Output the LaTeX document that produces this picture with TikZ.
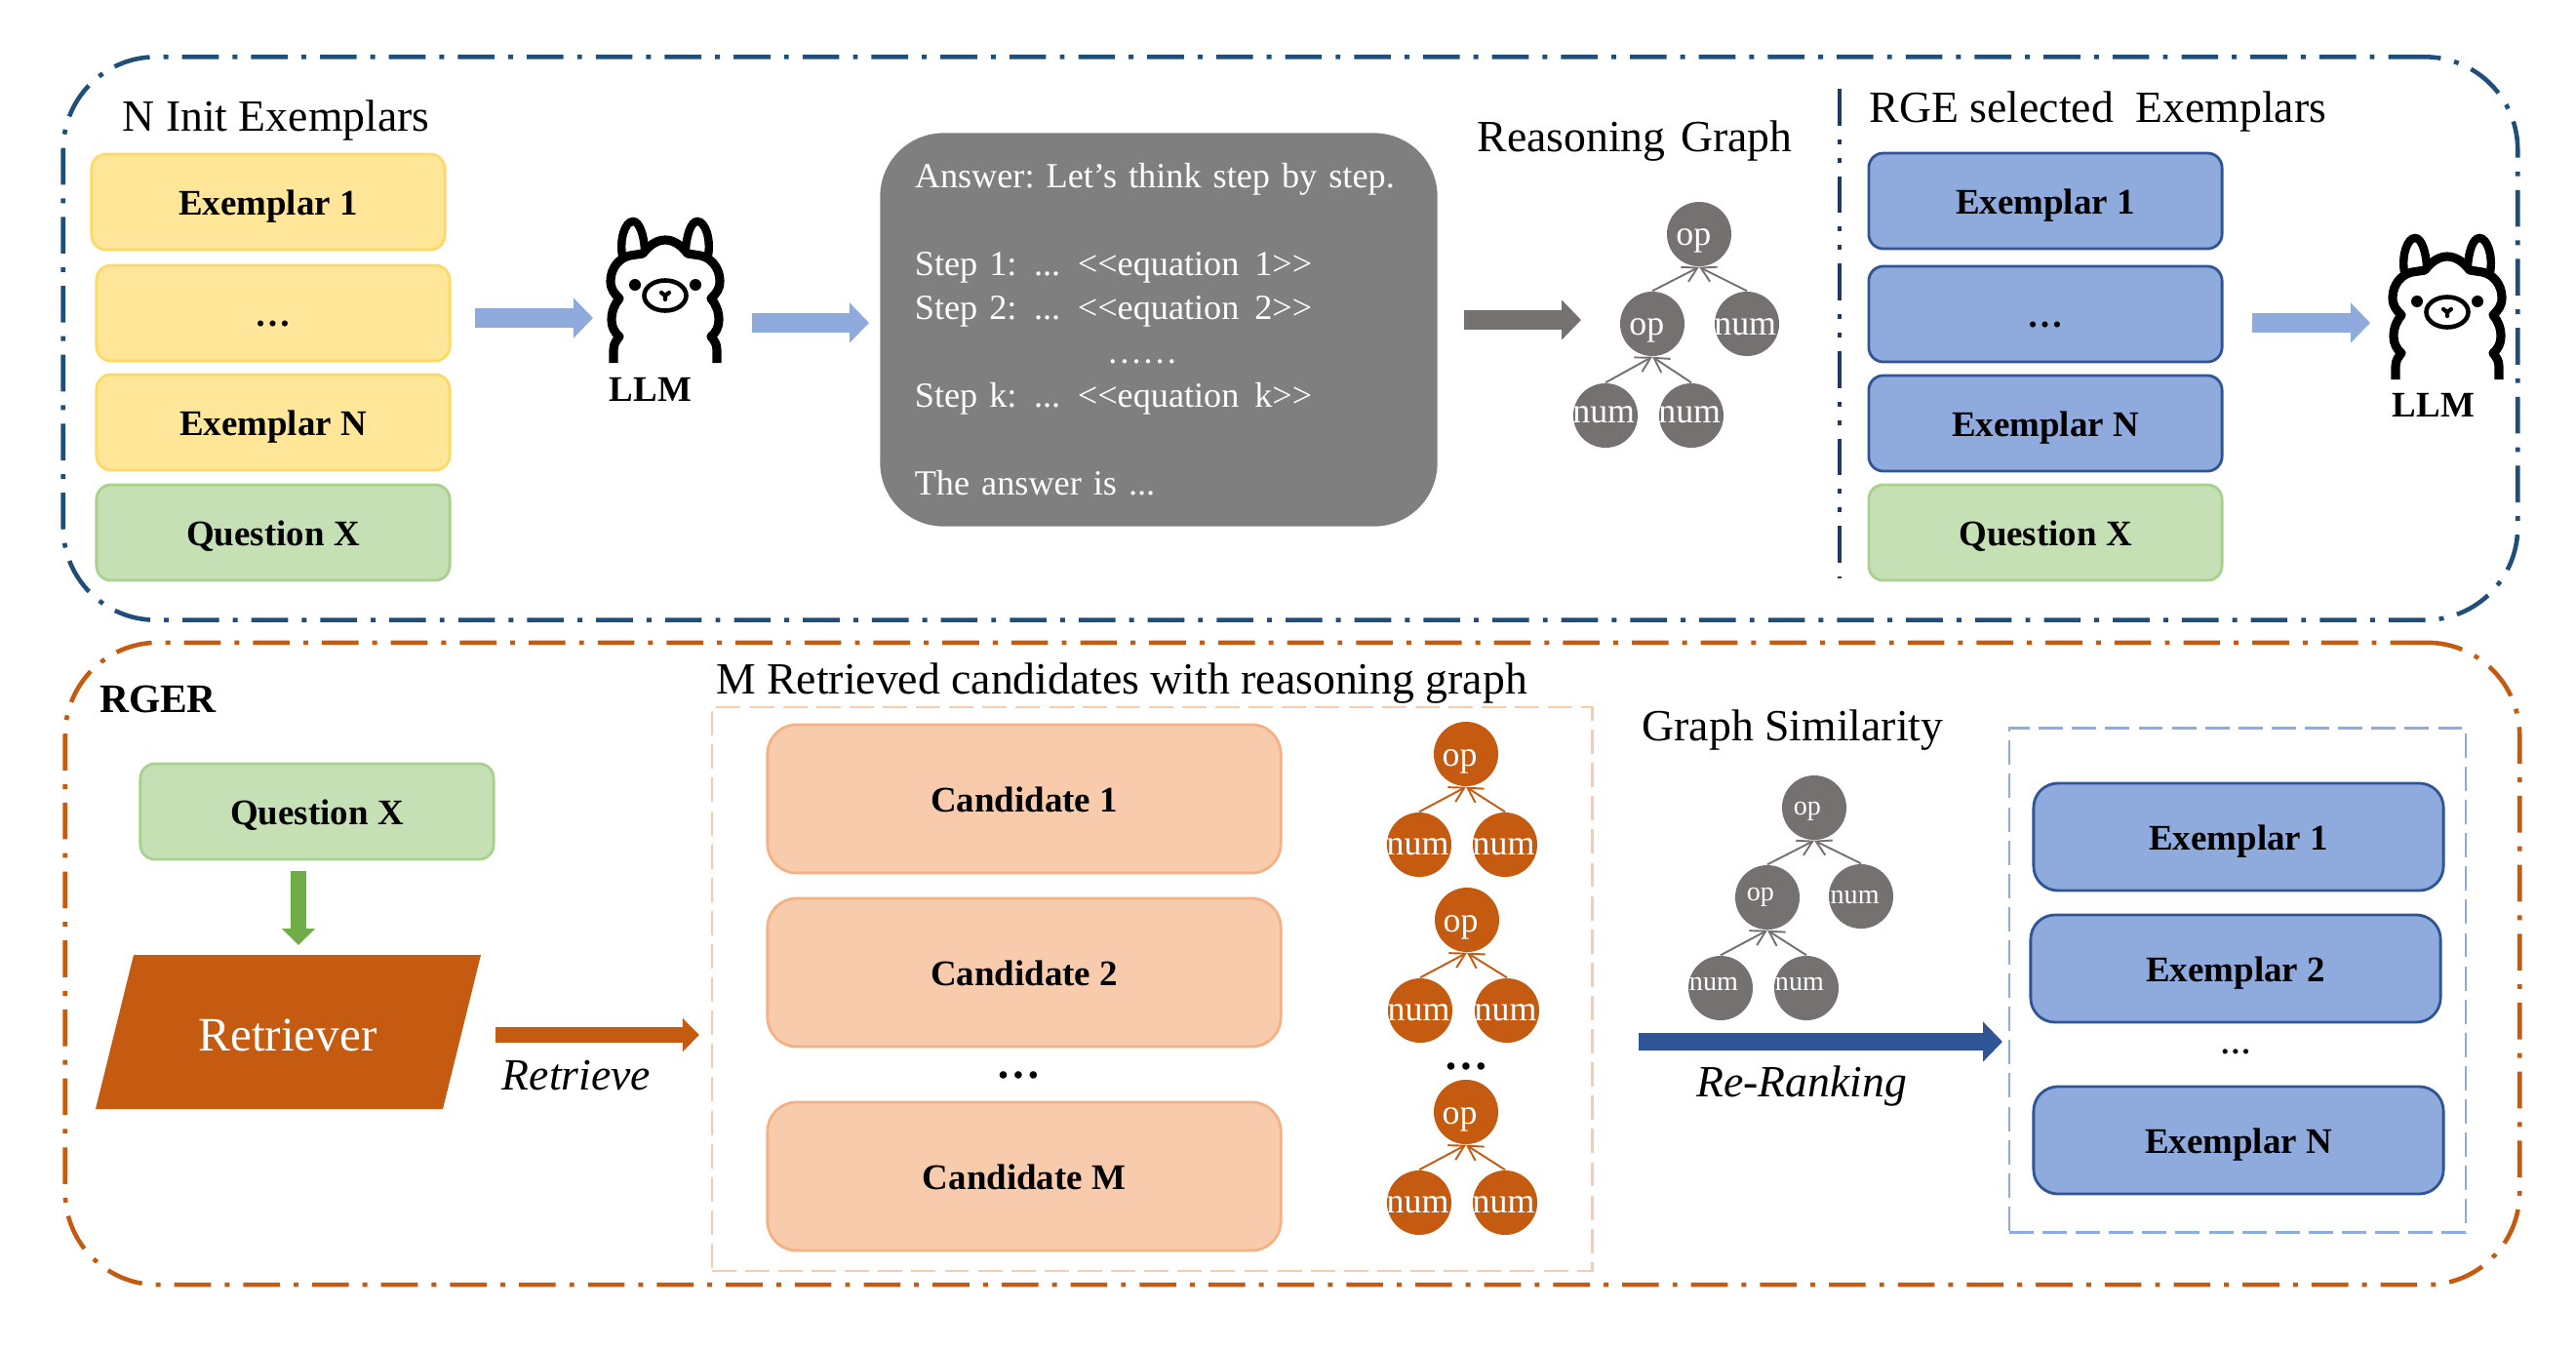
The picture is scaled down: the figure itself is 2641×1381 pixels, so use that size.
\documentclass[tikz,border=0pt]{standalone}
\usepackage{fontspec}
\setmainfont{Liberation Serif}
\usetikzlibrary{arrows.meta}

\definecolor{framenavy}{HTML}{1F4E79}
\definecolor{framerust}{HTML}{C55A11}
\definecolor{ruleblue}{HTML}{1F3864}
\definecolor{sandfill}{HTML}{FFE699}
\definecolor{sandline}{HTML}{FFD966}
\definecolor{leaffill}{HTML}{C5E0B4}
\definecolor{leafline}{HTML}{A9D18E}
\definecolor{skyfill}{HTML}{8FAADC}
\definecolor{skyline}{HTML}{2F5597}
\definecolor{peachfill}{HTML}{F8CBAD}
\definecolor{peachline}{HTML}{F4B183}
\definecolor{slate}{HTML}{767171}
\definecolor{answergray}{HTML}{7F7F7F}
\definecolor{grass}{HTML}{70AD47}

\newcommand{\nodetext}[3]{\makebox[0pt]{\hspace*{#1}\smash{\raisebox{#2}{#3}}}}

\begin{document}
\begin{tikzpicture}[
  x=0.01cm, y=-0.01cm,
  every node/.style={inner sep=1pt},
  frame/.style={draw, rounded corners=0.95cm, line width=1.3pt, minimum width=25.15cm,
    dash pattern=on 10.7pt off 4pt on 1.4pt off 4pt},
  headline/.style={font=\fontsize{13}{16}\selectfont},
  card/.style={draw, rounded corners=0.15cm, line width=0.8pt, minimum width=3.62cm, minimum height=0.98cm,
    text height=7.5pt, text depth=0pt, font=\fontsize{10.5}{12}\selectfont\bfseries},
  exinit/.style={card, fill=sandfill, draw=sandline},
  question/.style={card, fill=leaffill, draw=leafline},
  exsel/.style={card, fill=skyfill, draw=skyline},
  exrank/.style={exsel, rounded corners=0.25cm, minimum width=4.2cm, minimum height=1.1cm},
  candidate/.style={card, fill=peachfill, draw=peachline, rounded corners=0.3cm,
    minimum width=5.26cm, minimum height=1.52cm},
  dashbox/.style={draw, line width=0.7pt, dash pattern=on 7.1pt off 2.6pt},
  graynode/.style={circle, fill=slate, minimum size=0.66cm, inner sep=0pt, text=white,
    font=\fontsize{10.2}{12}\selectfont},
  graysmall/.style={graynode, font=\fontsize{8}{10}\selectfont},
  rustnode/.style={graynode, fill=framerust},
  link/.style={draw, line width=0.55pt, -{Straight Barb[length=4.2pt, width=4.8pt]}},
  graylink/.style={link, slate},
  rustlink/.style={link, framerust},
  block/.style={draw, line width=0.2cm, -{Triangle[length=0.2cm, width=0.4cm]}},
  thinblock/.style={draw, line width=0.16cm, -{Triangle[length=0.17cm, width=0.33cm]}},
  llama/.pic={
    \draw[line width=2.6pt, line cap=butt, line join=round]
      (-53,75) -- (-53,62) .. controls (-53,55) and (-50,52) .. (-47,48)
      .. controls (-52,44) and (-55,38) .. (-55,31) .. controls (-55,22) and (-52,15) .. (-47,9)
      .. controls (-52,4) and (-56,0) .. (-56,-9) .. controls (-56,-22) and (-47,-33) .. (-36,-35)
      -- (-23,-37) .. controls (-17,-45) and (-9,-51) .. (0,-51) .. controls (9,-51) and (17,-45) .. (23,-37)
      -- (36,-35) .. controls (47,-33) and (56,-22) .. (56,-9) .. controls (56,0) and (52,4) .. (47,9)
      .. controls (52,15) and (55,22) .. (55,31) .. controls (55,38) and (52,44) .. (47,48)
      .. controls (50,52) and (53,55) .. (53,62) -- (53,75);
    \draw[line width=2.4pt]
      (-44,-35) .. controls (-47,-52) and (-41,-70) .. (-33,-70) .. controls (-26,-70) and (-22,-55) .. (-21,-42);
    \draw[line width=2.4pt]
      (44,-35) .. controls (47,-52) and (41,-70) .. (33,-70) .. controls (26,-70) and (22,-55) .. (21,-42);
    \draw[line width=1.3pt] (0,6) ellipse (0.215cm and 0.155cm);
    \fill (-31,-5) circle (0.06cm) (31,-5) circle (0.06cm);
    \draw[line width=1.2pt, line cap=round] (-4,3) -- (0,6) -- (4,3) (0,6) -- (0,10);
  }]

  \node[frame, draw=framenavy, minimum height=5.77cm] (topframe) at (1323,347) {};
  \node[frame, draw=framerust, minimum height=6.58cm] (lowframe) at (1325,988) {};

  \node[headline] (inittitle) at (283,123) {N Init Exemplars};
  \node[exinit] (exinitA) at (275,207) {Exemplar 1};
  \node[exinit] (exinitB) at (280,321) {…};
  \node[exinit] (exinitN) at (280,433) {Exemplar N};
  \node[question] (questionA) at (280,546) {Question X};

  \pic at (682,297) {llama};
  \node[font=\fontsize{10.5}{12}\selectfont\bfseries] (llmA) at (667,399) {LLM};

  \coordinate (initout) at (487,326);
  \coordinate (llamain) at (608,326);
  \coordinate (llamaout) at (771,331);
  \coordinate (answerin) at (891,331);
  \draw[block, skyfill] (initout) -- (llamain);
  \draw[block, skyfill] (llamaout) -- (answerin);

  \node[fill=answergray, text=white, rounded corners=0.65cm, minimum width=5.71cm, minimum height=4.03cm,
    text width=5.0cm, align=left, font=\fontsize{10.3}{12.8}\selectfont\frenchspacing] (answer) at (1188,338)
    {\mbox{Answer: Let’s think step by step.}\\[12.8pt]
     Step 1:\hspace{5pt}...\hspace{5pt}{<}{<}equation\hspace{4.5pt}1{>}{>}\\
     Step 2:\hspace{5pt}...\hspace{5pt}{<}{<}equation\hspace{4.5pt}2{>}{>}\\
     \hspace*{1.97cm}……\\
     Step k:\hspace{5pt}...\hspace{5pt}{<}{<}equation\hspace{4.5pt}k{>}{>}\\[12.8pt]
     The answer is ...};

  \coordinate (answerout) at (1501,328);
  \coordinate (graphin) at (1621,328);
  \draw[block, slate] (answerout) -- (graphin);

  \node[headline] (graphtitle) at (1676,145) {Reasoning\hspace{0.34em}Graph};
  \node[graynode] (rootA) at (1742,240) {\nodetext{-3.2pt}{-3.3pt}{op}};
  \node[graynode] (opA) at (1694,332) {\nodetext{-3.2pt}{-3.3pt}{op}};
  \node[graynode] (numA) at (1791,332) {\nodetext{-1pt}{-3.3pt}{num}};
  \node[graynode] (numB) at (1646,426) {\nodetext{-1pt}{-2.1pt}{num}};
  \node[graynode] (numC) at (1734,426) {\nodetext{-1pt}{-2.1pt}{num}};
  \draw[graylink] (opA.north) -- (rootA.south);
  \draw[graylink] (numA.north) -- (rootA.south);
  \draw[graylink] (numB.north) -- (opA.south);
  \draw[graylink] (numC.north) -- (opA.south);

  \coordinate (ruletop) at (1886,91);
  \coordinate (rulelow) at (1886,593);
  \draw[ruleblue, line width=1.3pt, dash pattern=on 10.7pt off 4pt on 1.4pt off 4pt on 1.4pt off 4pt] (ruletop) -- (rulelow);

  \node[headline] (seltitle) at (2151,114) {RGE selected\ \ Exemplars};
  \node[exsel] (exselA) at (2097,206) {Exemplar 1};
  \node[exsel] (exselB) at (2097,322) {…};
  \node[exsel] (exselN) at (2097,434) {Exemplar N};
  \node[question] (questionB) at (2097,546) {Question X};

  \coordinate (selout) at (2309,331);
  \coordinate (llamabin) at (2430,331);
  \draw[block, skyfill] (selout) -- (llamabin);
  \pic at (2509,314) {llama};
  \node[font=\fontsize{10.5}{12}\selectfont\bfseries] (llmB) at (2495,415) {LLM};

  \node[font=\fontsize{11.8}{14}\selectfont\bfseries] (rger) at (162,717) {RGER};
  \node[question] (questionC) at (325,832) {Question X};
  \fill[framerust] (137,979) -- (493,979) -- (454,1137) -- (98,1137) -- cycle;
  \node[text=white, font=\fontsize{14}{16}\selectfont] (retriever) at (295,1061) {Retriever};

  \coordinate (questionout) at (306,893);
  \coordinate (retrieverin) at (306,969);
  \draw[thinblock, grass] (questionout) -- (retrieverin);

  \coordinate (retrieverout) at (508,1061);
  \coordinate (candin) at (717,1061);
  \draw[thinblock, framerust] (retrieverout) -- (candin);
  \node[font=\fontsize{13}{15}\selectfont\itshape] (retrieve) at (591,1103) {Retrieve};

  \node[headline] (candtitle) at (1150,701) {M Retrieved candidates with reasoning graph};
  \node[dashbox, draw=peachfill, minimum width=9.02cm, minimum height=5.78cm] (candbox) at (1181,1014) {};
  \node[candidate] (candA) at (1050,819) {Candidate 1};
  \node[candidate] (candB) at (1050,997) {Candidate 2};
  \node[font=\fontsize{13}{15}\selectfont\bfseries] (canddots) at (1044,1102) {…};
  \node[candidate] (candM) at (1050,1206) {Candidate M};

  \node[rustnode] (rootB) at (1503,773) {\nodetext{-3.6pt}{-3.5pt}{op}};
  \node[rustnode] (numD) at (1455,866) {\nodetext{-0.8pt}{-3.1pt}{num}};
  \node[rustnode] (numE) at (1543,866) {\nodetext{-0.8pt}{-3.1pt}{num}};
  \draw[rustlink] (numD.north) -- (rootB.south);
  \draw[rustlink] (numE.north) -- (rootB.south);
  \node[rustnode] (rootC) at (1504,943) {\nodetext{-3.6pt}{-3.5pt}{op}};
  \node[rustnode] (numF) at (1456,1036) {\nodetext{-0.8pt}{-3.1pt}{num}};
  \node[rustnode] (numG) at (1545,1036) {\nodetext{-0.8pt}{-3.1pt}{num}};
  \draw[rustlink] (numF.north) -- (rootC.south);
  \draw[rustlink] (numG.north) -- (rootC.south);
  \node[font=\fontsize{13}{15}\selectfont\bfseries] (treedots) at (1503,1093) {…};
  \node[rustnode] (rootD) at (1503,1140) {\nodetext{-3.6pt}{-3.5pt}{op}};
  \node[rustnode] (numH) at (1455,1233) {\nodetext{-0.8pt}{-3.1pt}{num}};
  \node[rustnode] (numI) at (1543,1233) {\nodetext{-0.8pt}{-3.1pt}{num}};
  \draw[rustlink] (numH.north) -- (rootD.south);
  \draw[rustlink] (numI.north) -- (rootD.south);

  \node[headline] (simtitle) at (1838,749) {Graph Similarity};
  \node[graysmall] (rootE) at (1860,828) {\nodetext{-4pt}{-2.1pt}{op}};
  \node[graysmall] (opE) at (1812,920) {\nodetext{-4pt}{-1pt}{op}};
  \node[graysmall] (numJ) at (1908,919) {\nodetext{-3.6pt}{-2.1pt}{num}};
  \node[graysmall] (numK) at (1764,1013) {\nodetext{-4pt}{-0.8pt}{num}};
  \node[graysmall] (numL) at (1852,1013) {\nodetext{-4pt}{-0.8pt}{num}};
  \draw[graylink] (opE.north) -- (rootE.south);
  \draw[graylink] (numJ.north) -- (rootE.south);
  \draw[graylink] (numK.north) -- (opE.south);
  \draw[graylink] (numL.north) -- (opE.south);

  \coordinate (rankout) at (1680,1068);
  \coordinate (rankin) at (2053,1068);
  \draw[block, skyline, line width=0.18cm] (rankout) -- (rankin);
  \node[font=\fontsize{13}{15}\selectfont\itshape] (rerank) at (1847,1113) {Re-Ranking};

  \node[dashbox, draw=skyfill, minimum width=4.68cm, minimum height=5.17cm] (rankbox) at (2294,1005) {};
  \node[exrank] (exrankA) at (2295,858) {Exemplar 1};
  \node[exrank] (exrankB) at (2292,993) {Exemplar 2};
  \node[font=\fontsize{9}{11}\selectfont\bfseries] (rankdots) at (2292,1078) {…};
  \node[exrank] (exrankN) at (2295,1169) {Exemplar N};

  \useasboundingbox (0,0) rectangle (2641,1381);
\end{tikzpicture}
\end{document}
